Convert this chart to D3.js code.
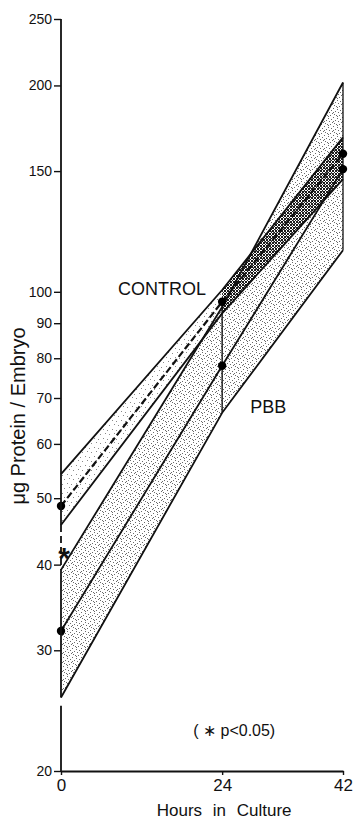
<!DOCTYPE html>
<html>
<head>
<meta charset="utf-8">
<script src="https://cdn.jsdelivr.net/npm/d3@7"></script>
<style>
  body { margin: 0; background: #fff; }
  text { font-family: "Liberation Sans", Arial, sans-serif; fill: #111; }
</style>
</head>
<body>
<div id="chart"></div>
<script>
// data (ug protein / embryo, log axis)
const hours = [0, 24, 42];
const controlMean = [48.7, 96.7, 159];
const controlHigh = [54.2, 100.6, 168];
const controlLow = [45.7, 93, 146];
const pbbMean = [32, 78, 151];
const pbbHigh = [39.3, 95, 202];
const pbbLow = [25.6, 66.6, 115];
const yTicks = [20, 30, 40, 50, 60, 70, 80, 90, 100, 150, 200, 250];
const xTicks = [0, 24, 42];

function draw () {
  const svgWidth = 355;
  const svgHeight = 820;

  const svg = d3.select('#chart')
    .append('svg')
    .attr('width', svgWidth)
    .attr('height', svgHeight);

  const x = d3.scaleLinear().domain([0, 42]).range([61, 343]);
  const y = d3.scaleLog().domain([20, 250]).range([771, 19]);

  // stipple patterns (fixed dot layouts, not data)
  const defs = svg.append('defs');
  function stipple (id, size, dots, color) {
    const p = defs.append('pattern')
      .attr('id', id)
      .attr('width', size)
      .attr('height', size)
      .attr('patternUnits', 'userSpaceOnUse');
    dots.forEach(d => p.append('rect')
      .attr('x', d[0]).attr('y', d[1])
      .attr('width', 1).attr('height', 1)
      .attr('fill', color));
  }
  stipple('stipLight', 9, [[1, 2], [6, 1], [4, 6], [8, 7]], '#8a8a8a');
  stipple('stipMed', 9, [[0, 0], [4, 1], [7, 2], [2, 3], [5, 4], [8, 5], [1, 6], [3, 7], [6, 7], [4, 8], [0, 4]], '#6a6a6a');
  stipple('stipDark', 3, [[0, 0], [1, 1], [2, 2], [2, 0], [0, 2]], '#1a1a1a');

  const rows = (hi, lo) => hours.map((h, i) => ({ h: h, hi: hi[i], lo: lo[i] }));
  const ctrl = rows(controlHigh, controlLow);
  const pbb = rows(pbbHigh, pbbLow);

  const area = d3.area()
    .x(d => x(d.h))
    .y0(d => y(d.lo))
    .y1(d => y(d.hi));

  svg.append('path').datum(pbb).attr('d', area).attr('fill', 'url(#stipMed)');
  svg.append('path').datum(ctrl.slice(0, 2)).attr('d', area).attr('fill', 'url(#stipLight)');
  svg.append('path').datum(ctrl.slice(1)).attr('d', area).attr('fill', 'url(#stipDark)');

  const line = d3.line()
    .x((d, i) => x(hours[i]))
    .y(d => y(d));

  const solid = [controlHigh, controlLow, pbbHigh, pbbMean, pbbLow];
  solid.forEach(s => {
    svg.append('path')
      .datum(s)
      .attr('d', line)
      .attr('fill', 'none')
      .attr('stroke', '#111')
      .attr('stroke-width', 1.8)
      .attr('stroke-linejoin', 'round');
  });

  svg.append('path')
    .datum(controlMean)
    .attr('d', line)
    .attr('fill', 'none')
    .attr('stroke', '#111')
    .attr('stroke-width', 2.2)
    .attr('stroke-dasharray', '7,3');

  // verticals at 24 and 42 h
  svg.append('line')
    .attr('x1', x(24)).attr('x2', x(24))
    .attr('y1', y(controlMean[1])).attr('y2', y(pbbLow[1]))
    .attr('stroke', '#111').attr('stroke-width', 1.4);
  svg.append('line')
    .attr('x1', x(42)).attr('x2', x(42))
    .attr('y1', y(pbbHigh[2])).attr('y2', y(pbbLow[2]))
    .attr('stroke', '#111').attr('stroke-width', 1.3);

  // mean points
  const pts = hours.map((h, i) => ({ h: h, v: controlMean[i] }))
    .concat(hours.map((h, i) => ({ h: h, v: pbbMean[i] })));
  svg.selectAll('circle.pt')
    .data(pts)
    .enter().append('circle')
    .attr('class', 'pt')
    .attr('cx', d => x(d.h))
    .attr('cy', d => y(d.v))
    .attr('r', 4.2)
    .attr('fill', '#000');

  // y axis
  const yAxis = svg.append('g')
    .attr('transform', `translate(${x(0)}, 0)`)
    .call(d3.axisLeft(y).tickValues(yTicks).tickFormat(d3.format('d')).tickSize(7).tickPadding(2));
  yAxis.select('.domain').remove();
  yAxis.selectAll('.tick line').attr('stroke', '#111').attr('stroke-width', 1.4);
  yAxis.selectAll('.tick text').style('font-size', '14px').attr('fill', '#111');

  const axisSeg = (a, b, dash) => svg.append('line')
    .attr('x1', x(0)).attr('x2', x(0))
    .attr('y1', y(a)).attr('y2', y(b))
    .attr('stroke', '#111')
    .attr('stroke-width', 1.8)
    .attr('stroke-dasharray', dash);
  axisSeg(250, controlLow[0], null);
  axisSeg(controlLow[0], pbbHigh[0], '7,4');
  axisSeg(pbbHigh[0], pbbLow[0], null);
  axisSeg(24.9, 20, null);

  svg.append('text')
    .attr('x', x(0) + 3)
    .attr('y', y(42.6))
    .attr('dy', '0.75em')
    .attr('text-anchor', 'middle')
    .style('font-size', '30px')
    .style('font-weight', 'bold')
    .text('*');

  // x axis
  const xAxis = svg.append('g')
    .attr('transform', `translate(0, ${y(20)})`)
    .call(d3.axisBottom(x).tickValues(xTicks).tickSize(4).tickSizeOuter(0).tickPadding(4));
  xAxis.select('.domain').attr('stroke', '#111').attr('stroke-width', 1.8);
  xAxis.selectAll('.tick line').attr('stroke', '#111').attr('stroke-width', 1.4);
  xAxis.selectAll('.tick text').style('font-size', '17px').attr('fill', '#111');

  svg.append('text')
    .attr('x', x(24) + 2)
    .attr('y', 816)
    .attr('text-anchor', 'middle')
    .style('font-size', '17px')
    .style('word-spacing', '6px')
    .text('Hours in Culture');

  svg.append('text')
    .attr('transform', 'translate(25, 416) rotate(-90)')
    .attr('text-anchor', 'middle')
    .style('font-size', '20px')
    .text('\u03bcg Protein / Embryo');

  // labels
  svg.append('text')
    .attr('x', x(8.5))
    .attr('y', y(99))
    .style('font-size', '18px')
    .text('CONTROL');
  svg.append('text')
    .attr('x', x(28.2))
    .attr('y', y(66.6))
    .style('font-size', '18px')
    .text('PBB');
  svg.append('text')
    .attr('x', x(19.7))
    .attr('y', 736)
    .style('font-size', '16px')
    .text('( \u2217 p<0.05)');
}

draw();
</script>
</body>
</html>
